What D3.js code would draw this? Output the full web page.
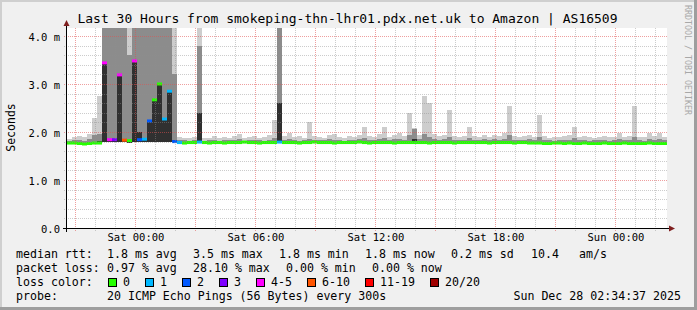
<!DOCTYPE html>
<html>
<head>
<meta charset="utf-8">
<script src="https://cdn.jsdelivr.net/npm/d3@7"></script>
<style>
  html, body { margin: 0; padding: 0; background: #f0f0f0; }
  svg { display: block; }
  text { font-family: "DejaVu Sans Mono", monospace; fill: #000; }
</style>
</head>
<body>
<svg id="chart"></svg>
<script>
const w = 697;
const h = 310;
const plot = { left: 67, right: 667, top: 28, bottom: 228 };

const endTime = new Date(Date.UTC(2025, 11, 28, 2, 34, 37));
const startTime = new Date(+endTime - 30 * 3600 * 1000);
const stepMin = 15;

// median rtt per 15 min column, ms
const median = [
  1.77,1.77,1.76,1.75,1.76,1.77,1.77,3.44,1.84,1.84,
  3.19,1.83,1.82,3.48,1.84,1.85,2.23,2.67,3.00,2.27,
  2.85,1.80,1.78,1.77,1.78,1.78,1.79,1.78,1.77,1.78,
  1.78,1.77,1.78,1.78,1.78,1.79,1.78,1.78,1.77,1.78,
  1.78,1.78,1.79,1.78,1.78,1.78,1.77,1.78,1.78,1.79,
  1.78,1.78,1.78,1.77,1.78,1.78,1.78,1.78,1.79,1.78,
  1.77,1.78,1.78,1.78,1.78,1.77,1.78,1.78,1.78,1.78,
  1.78,1.78,1.77,1.78,1.78,1.78,1.78,1.77,1.78,1.78,
  1.78,1.78,1.78,1.78,1.77,1.78,1.78,1.78,1.78,1.77,
  1.78,1.78,1.77,1.77,1.77,1.76,1.76,1.77,1.77,1.76,
  1.77,1.76,1.76,1.77,1.76,1.76,1.76,1.77,1.76,1.76,
  1.76,1.77,1.76,1.76,1.76,1.76,1.77,1.76,1.76,1.76
];

// lost pings out of 20 per column
const loss = [
  0,0,0,0,0,0,0,5,4,3,
  5,7,0,5,2,1,2,0,0,1,
  1,2,1,0,0,0,1,0,0,0,
  0,0,0,0,0,0,0,0,0,0,
  0,0,1,0,0,0,0,0,0,0,
  0,0,0,0,0,0,0,0,0,0,
  0,0,0,0,0,0,0,0,0,0,
  0,0,0,0,0,0,0,0,0,0,
  0,0,0,0,0,0,0,0,0,0,
  0,0,0,0,0,0,0,0,0,0,
  0,0,0,0,0,0,0,0,0,0,
  0,0,0,0,0,0,0,0,0,0
];

// smoke: lowest ping, highest ping, 90th and 75th percentile, ms
const smokeLo = [
  1.76,1.76,1.75,1.75,1.75,1.76,1.76,1.79,1.79,1.79,
  1.79,1.79,1.78,1.79,1.79,1.79,1.79,1.79,1.79,1.79,
  1.79,1.78,1.76,1.76,1.76,1.76,1.77,1.76,1.76,1.76,
  1.76,1.76,1.76,1.76,1.76,1.77,1.76,1.76,1.76,1.76,
  1.76,1.76,1.77,1.76,1.76,1.76,1.76,1.76,1.76,1.77,
  1.76,1.76,1.76,1.76,1.76,1.76,1.76,1.76,1.77,1.76,
  1.76,1.76,1.76,1.76,1.76,1.76,1.76,1.76,1.76,1.76,
  1.76,1.76,1.76,1.76,1.76,1.76,1.76,1.76,1.76,1.76,
  1.76,1.76,1.76,1.76,1.76,1.76,1.76,1.76,1.76,1.76,
  1.76,1.76,1.75,1.75,1.75,1.75,1.75,1.75,1.75,1.75,
  1.75,1.75,1.75,1.75,1.75,1.75,1.75,1.75,1.75,1.75,
  1.75,1.75,1.75,1.75,1.75,1.75,1.75,1.75,1.75,1.75
];
const smokeHi = [
  1.86,1.89,1.92,1.90,1.95,2.30,2.75,4.50,4.50,4.50,
  4.50,4.50,4.50,4.50,4.50,4.50,4.50,4.50,4.50,4.50,
  4.50,4.50,1.90,1.88,1.87,1.90,4.50,1.88,1.87,1.91,
  1.87,1.90,1.88,1.92,1.96,1.87,1.90,1.92,1.88,1.90,
  1.93,2.25,4.50,1.91,1.98,1.89,1.92,1.88,2.20,1.91,
  1.89,1.88,1.93,1.96,1.90,1.88,1.92,1.89,1.93,2.10,
  1.91,1.89,1.95,2.10,1.90,1.93,1.97,1.91,2.40,2.08,
  1.93,2.75,2.60,1.95,1.91,1.94,2.45,1.92,1.90,1.91,
  2.10,1.91,1.89,1.93,1.90,1.94,1.91,1.98,2.55,1.92,
  1.90,1.91,1.94,1.89,2.35,1.91,1.88,1.90,1.89,1.91,
  1.93,2.10,1.90,1.91,1.89,1.88,1.90,1.91,1.89,1.90,
  1.98,1.89,1.91,2.55,1.90,1.89,1.97,1.91,1.97,1.89
];
const smoke90 = [
  1.81,1.83,1.84,1.82,1.85,1.93,1.96,4.50,4.50,4.50,
  4.50,4.50,3.60,4.50,4.50,4.50,4.50,4.50,4.50,4.50,
  4.50,3.20,1.84,1.83,1.82,1.83,3.80,1.82,1.83,1.84,
  1.82,1.83,1.84,1.83,1.85,1.82,1.83,1.84,1.83,1.82,
  1.84,1.88,4.50,1.84,1.85,1.83,1.82,1.84,1.86,1.83,
  1.84,1.83,1.85,1.84,1.83,1.82,1.84,1.83,1.85,1.88,
  1.84,1.83,1.86,1.88,1.84,1.85,1.86,1.83,1.93,2.06,
  1.85,1.96,1.90,1.86,1.84,1.85,1.90,1.84,1.83,1.84,
  1.88,1.84,1.83,1.85,1.84,1.86,1.84,1.86,1.93,1.84,
  1.83,1.84,1.85,1.83,1.90,1.84,1.83,1.82,1.83,1.84,
  1.84,1.88,1.83,1.84,1.82,1.83,1.84,1.83,1.82,1.84,
  1.86,1.83,1.84,1.90,1.83,1.82,1.86,1.84,1.85,1.83
];
const smoke75 = [
  1.78,1.78,1.78,1.77,1.78,1.80,1.81,3.44,1.86,1.86,
  3.19,1.86,1.84,3.48,2.00,1.86,2.23,2.67,3.00,2.27,
  2.85,1.84,1.80,1.78,1.78,1.78,2.40,1.78,1.78,1.79,
  1.78,1.78,1.78,1.78,1.79,1.78,1.78,1.78,1.78,1.78,
  1.78,1.80,2.60,1.78,1.79,1.78,1.78,1.78,1.79,1.78,
  1.78,1.78,1.78,1.78,1.78,1.78,1.78,1.78,1.78,1.79,
  1.78,1.78,1.79,1.79,1.78,1.78,1.79,1.78,1.80,1.85,
  1.78,1.80,1.79,1.78,1.78,1.78,1.80,1.78,1.78,1.78,
  1.79,1.78,1.78,1.78,1.78,1.79,1.78,1.79,1.80,1.78,
  1.78,1.78,1.78,1.78,1.79,1.77,1.77,1.77,1.77,1.77,
  1.77,1.78,1.77,1.77,1.77,1.77,1.77,1.77,1.77,1.77,
  1.78,1.77,1.77,1.79,1.77,1.77,1.78,1.77,1.77,1.77
];

const lossMax = [0, 1, 2, 3, 5, 10, 19, 20];
const lossLabels = ["0", "1", "2", "3", "4-5", "6-10", "11-19", "20/20"];
const lossColors = ["#26ff00", "#00b8ff", "#0059ff", "#7e00ff", "#ff00ff", "#ff5500", "#ff0000", "#a00000"];

const yTicks = [0, 1, 2, 3, 4];
const yLabels = ["0.0", "1.0 m", "2.0 m", "3.0 m", "4.0 m"];

const rttLabel = "median rtt:";
const rttItems = ["1.8 ms avg", "3.5 ms max", "1.8 ms min", "1.8 ms now", "0.2 ms sd", "10.4", "am/s"];
const lossLabel = "packet loss:";
const lossItems = ["0.97 % avg", "28.10 % max", "0.00 % min", "0.00 % now"];
const probeText = "20 ICMP Echo Pings (56 Bytes) every 300s";
const stampText = "Sun Dec 28 02:34:37 2025";
const titleText = "Last 30 Hours from smokeping-thn-lhr01.pdx.net.uk to Amazon | AS16509";

const x = d3.scaleUtc().domain([startTime, endTime]).range([plot.left, plot.right]);
const y = d3.scaleLinear().domain([0, 200 / 48]).range([plot.bottom, plot.top]);

const cols = median.map((m, i) => ({
  t0: new Date(+startTime + i * stepMin * 60000),
  t1: new Date(+startTime + (i + 1) * stepMin * 60000),
  med: m,
  k: lossMax.findIndex(b => loss[i] <= b),
  lo: smokeLo[i], hi: smokeHi[i], p90: smoke90[i], p75: smoke75[i]
}));

const svg = d3.select('#chart').attr('width', w).attr('height', h);

// background + 3d frame
svg.append('rect').attr('width', w).attr('height', h).attr('fill', '#f0f0f0');
svg.append('rect').attr('x', 0).attr('y', 0).attr('width', w).attr('height', 2).attr('fill', '#cfcfcf');
svg.append('rect').attr('x', 0).attr('y', 0).attr('width', 2).attr('height', h).attr('fill', '#cfcfcf');
svg.append('rect').attr('x', w - 3).attr('y', 0).attr('width', 3).attr('height', h).attr('fill', '#9e9e9e');
svg.append('rect').attr('x', 0).attr('y', h - 3).attr('width', w).attr('height', 3).attr('fill', '#9e9e9e');

svg.append('rect')
  .attr('x', plot.left).attr('y', plot.top)
  .attr('width', plot.right - plot.left).attr('height', plot.bottom - plot.top)
  .attr('fill', '#fff');

svg.append('clipPath').attr('id', 'clip')
  .append('rect')
  .attr('x', plot.left).attr('y', plot.top)
  .attr('width', plot.right - plot.left).attr('height', plot.bottom - plot.top);

const g = svg.append('g').attr('clip-path', 'url(#clip)');

// smoke layers, outer to inner
const bands = [
  { key: 'hi', color: '#cdcdcd' },
  { key: 'p90', color: '#8c8c8c' },
  { key: 'p75', color: '#303030' }
];
bands.forEach(b => {
  g.append('g').selectAll('rect')
    .data(cols)
    .enter().append('rect')
      .attr('x', d => x(d.t0))
      .attr('width', d => x(d.t1) - x(d.t0))
      .attr('y', d => y(d[b.key]))
      .attr('height', d => Math.max(0, y(d.lo) - y(d[b.key])))
      .attr('fill', b.color)
      .attr('shape-rendering', 'crispEdges');
});

// median: one short step per column, coloured by loss
g.append('g').selectAll('line')
  .data(cols)
  .enter().append('line')
    .attr('x1', d => x(d.t0))
    .attr('x2', d => x(d.t1))
    .attr('y1', d => y(d.med))
    .attr('y2', d => y(d.med))
    .attr('stroke', d => lossColors[d.k])
    .attr('stroke-width', 3);

// grid on top
const grid = svg.append('g').attr('shape-rendering', 'crispEdges');
const minorColor = 'rgba(143,143,143,0.45)';
const majorColor = 'rgba(224,80,80,0.55)';

const yMinor = d3.range(1, 21).map(i => i * 0.2);
grid.selectAll('.hgrid')
  .data(yMinor)
  .enter().append('line')
    .attr('x1', plot.left - 3).attr('x2', plot.right)
    .attr('y1', d => Math.round(y(d)) + 0.5).attr('y2', d => Math.round(y(d)) + 0.5)
    .attr('stroke', d => Math.abs(d - Math.round(d)) < 1e-6 ? majorColor : minorColor)
    .attr('stroke-dasharray', '1,1');

const hours = d3.utcHour.range(startTime, endTime);
grid.selectAll('.vgrid')
  .data(hours)
  .enter().append('line')
    .attr('x1', d => Math.round(x(d)) + 0.5).attr('x2', d => Math.round(x(d)) + 0.5)
    .attr('y1', plot.top).attr('y2', plot.bottom + 4)
    .attr('stroke', d => d.getUTCHours() % 3 === 0 ? majorColor : minorColor)
    .attr('stroke-dasharray', '1,1');

// axes lines and arrows
svg.append('line')
  .attr('x1', plot.left - 0.5).attr('x2', plot.left - 0.5)
  .attr('y1', plot.bottom + 4).attr('y2', plot.top - 3)
  .attr('stroke', '#000').attr('shape-rendering', 'crispEdges');
svg.append('line')
  .attr('x1', plot.left - 4).attr('x2', plot.right + 4)
  .attr('y1', plot.bottom + 0.5).attr('y2', plot.bottom + 0.5)
  .attr('stroke', '#000').attr('shape-rendering', 'crispEdges');
svg.append('path')
  .attr('d', `M${plot.left - 3.5},${plot.top - 2} L${plot.left + 2.5},${plot.top - 2} L${plot.left - 0.5},${plot.top - 8} Z`)
  .attr('fill', '#7f1f1f');
svg.append('path')
  .attr('d', `M${plot.right + 2},${plot.bottom - 2.5} L${plot.right + 2},${plot.bottom + 3.5} L${plot.right + 8},${plot.bottom + 0.5} Z`)
  .attr('fill', '#7f1f1f');

// y axis labels
const yAxis = d3.axisLeft(y)
  .tickValues(yTicks)
  .tickFormat((d, i) => yLabels[i])
  .tickSize(0)
  .tickPadding(7);
const ya = svg.append('g').attr('transform', `translate(${plot.left},0)`).call(yAxis);
ya.select('.domain').remove();
ya.selectAll('text')
  .attr('font-family', '"DejaVu Sans Mono", monospace')
  .attr('font-size', '10.5px')
  .attr('fill', '#000')
  .attr('dy', '0.38em');

// x axis labels
const xAxis = d3.axisBottom(x)
  .tickValues(d3.utcHour.every(6).range(startTime, endTime))
  .tickFormat(d3.utcFormat('%a %H:%M'))
  .tickSize(0)
  .tickPadding(5.5);
const xa = svg.append('g').attr('transform', `translate(0,${plot.bottom})`).call(xAxis);
xa.select('.domain').remove();
xa.selectAll('text')
  .attr('font-family', '"DejaVu Sans Mono", monospace')
  .attr('font-size', '10.5px')
  .attr('fill', '#000');

// title
svg.append('text')
  .attr('x', 347.5).attr('y', 23)
  .attr('text-anchor', 'middle')
  .attr('font-size', '13px')
  .text(titleText);

svg.append('text')
  .attr('transform', 'translate(15,127.5) rotate(-90)')
  .attr('text-anchor', 'middle')
  .attr('font-family', '"DejaVu Sans", sans-serif')
  .attr('font-size', '11.5px')
  .text('Seconds');

svg.append('text')
  .attr('transform', 'translate(685,5) rotate(90)')
  .attr('font-size', '8.3px')
  .style('fill', '#a8a8a8')
  .text('RRDTOOL / TOBI OETIKER');

// legend
const legend = svg.append('g').attr('font-size', '11.6px');
const rowY = [257.5, 271.5, 285.5, 299.5];

legend.append('text').attr('x', 16).attr('y', rowY[0]).text(rttLabel);
const rttX = [107, 193, 279, 365, 451, 531, 579];
rttItems.forEach((t, i) => legend.append('text').attr('x', rttX[i]).attr('y', rowY[0]).text(t));

legend.append('text').attr('x', 16).attr('y', rowY[1]).text(lossLabel);
const lossX = [107, 193, 286, 372];
lossItems.forEach((t, i) => legend.append('text').attr('x', lossX[i]).attr('y', rowY[1]).text(t));

legend.append('text').attr('x', 16).attr('y', rowY[2]).text('loss color:');
let bx = 108;
lossLabels.forEach((lab, i) => {
  legend.append('rect')
    .attr('x', bx + 0.5).attr('y', rowY[2] - 7.5)
    .attr('width', 8).attr('height', 8)
    .attr('fill', lossColors[i])
    .attr('stroke', '#000')
    .attr('shape-rendering', 'crispEdges');
  legend.append('text').attr('x', bx + 15).attr('y', rowY[2]).text(lab);
  bx += 30 + lab.length * 7;
});

legend.append('text').attr('x', 16).attr('y', rowY[3]).text('probe:');
legend.append('text').attr('x', 107).attr('y', rowY[3]).text(probeText);
legend.append('text').attr('x', 681).attr('y', rowY[3]).attr('text-anchor', 'end').text(stampText);
</script>
</body>
</html>
